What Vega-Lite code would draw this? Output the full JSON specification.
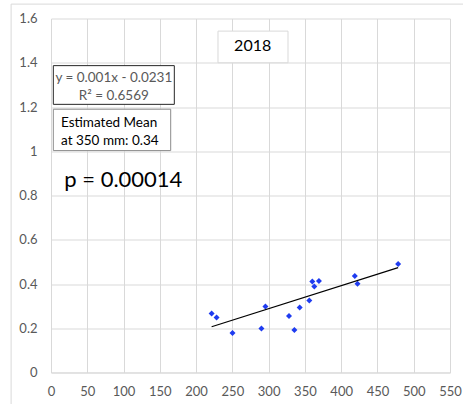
{
  "$schema": "https://vega.github.io/schema/vega-lite/v6.json",
  "autosize": {"type": "none"},
  "width": 399,
  "height": 354,
  "padding": {"left": 51, "top": 18.5, "right": 13, "bottom": 31.5},
  "background": "white",
  "config": {
    "font": "Lato",
    "view": {"stroke": null},
    "axis": {
      "labelFont": "Lato",
      "labelFontSize": 13,
      "labelColor": "#595959",
      "labelOverlap": false,
      "labelFlush": false,
      "gridColor": "#d9d9d9",
      "gridWidth": 1,
      "ticks": false,
      "title": null
    }
  },
  "datasets": {
    "points": [
      {"mm": 221.4, "value": 0.267},
      {"mm": 228.2, "value": 0.249},
      {"mm": 250.2, "value": 0.178},
      {"mm": 290.1, "value": 0.199},
      {"mm": 295.6, "value": 0.298},
      {"mm": 328.1, "value": 0.255},
      {"mm": 335.5, "value": 0.192},
      {"mm": 342.8, "value": 0.294},
      {"mm": 356.1, "value": 0.325},
      {"mm": 360.2, "value": 0.411},
      {"mm": 363.0, "value": 0.389},
      {"mm": 369.3, "value": 0.414},
      {"mm": 418.8, "value": 0.436},
      {"mm": 422.5, "value": 0.401},
      {"mm": 478.5, "value": 0.490}
    ],
    "trend": [
      {"mm": 221.4, "value": 0.207},
      {"mm": 478.5, "value": 0.474}
    ],
    "frame": [
      {"mm": -55, "mm2": 700, "value": 1.665, "value2": -0.3}
    ],
    "boxes": [
      {"box": "title", "mm": 230.2, "mm2": 326.7, "value": 1.543, "value2": 1.400, "stroke": "#d9d9d9"},
      {"box": "equation", "mm": 3.2, "mm2": 170, "value": 1.387, "value2": 1.212, "stroke": "#262626"},
      {"box": "estimate", "mm": 3.2, "mm2": 165, "value": 1.190, "value2": 1.003, "stroke": "#8c8c8c"}
    ],
    "centered": [
      {"label": "2018", "mm": 278, "value": 1.474, "size": 16, "color": "#000000"},
      {"label": "y = 0.001x - 0.0231", "mm": 86.6, "value": 1.331, "size": 13.5, "color": "#595959"},
      {"label": "R² = 0.6569", "mm": 86.6, "value": 1.250, "size": 13.5, "color": "#595959"}
    ],
    "leftText": [
      {"label": "Estimated Mean", "mm": 13.8, "value": 1.129, "size": 13.5},
      {"label": "at 350 mm: 0.34", "mm": 13.8, "value": 1.048, "size": 13.5},
      {"label": "p = 0.00014", "mm": 18.3, "value": 0.870, "size": 22}
    ]
  },
  "encoding": {
    "x": {"field": "mm", "type": "quantitative", "scale": {"domain": [0, 550], "nice": false, "zero": false}, "axis": {"values": [0, 50, 100, 150, 200, 250, 300, 350, 400, 450, 500, 550], "domain": true, "domainColor": "#d9d9d9", "labelPadding": 13, "grid": true}},
    "y": {"field": "value", "type": "quantitative", "scale": {"domain": [0, 1.6], "nice": false, "zero": false}, "axis": {"values": [0, 0.2, 0.4, 0.6, 0.8, 1, 1.2, 1.4, 1.6], "format": "~g", "domain": false, "labelPadding": 14, "grid": true}}
  },
  "layer": [
    {
      "data": {"name": "frame"},
      "mark": {"type": "rect", "fill": null, "stroke": "#d9d9d9", "strokeWidth": 1, "clip": false},
      "encoding": {
        "x2": {"field": "mm2"},
        "y2": {"field": "value2"}
      }
    },
    {
      "data": {"name": "points"},
      "mark": {"type": "point", "shape": "diamond", "filled": true, "size": 36, "color": "#1f3cf0", "opacity": 1}
    },
    {
      "data": {"name": "trend"},
      "mark": {"type": "line", "color": "#000000", "strokeWidth": 1.2},
      "encoding": {}
    },
    {
      "data": {"name": "boxes"},
      "mark": {"type": "rect", "fill": "white", "strokeWidth": 1},
      "encoding": {
        "x2": {"field": "mm2"},
        "y2": {"field": "value2"},
        "stroke": {"field": "stroke", "type": "nominal", "scale": null}
      }
    },
    {
      "data": {"name": "centered"},
      "mark": {"type": "text", "align": "center", "baseline": "middle", "font": "Lato"},
      "encoding": {
        "text": {"field": "label"},
        "size": {"field": "size", "type": "quantitative", "scale": null},
        "color": {"field": "color", "type": "nominal", "scale": null}
      }
    },
    {
      "data": {"name": "leftText"},
      "mark": {"type": "text", "align": "left", "baseline": "middle", "font": "Lato", "color": "#000000"},
      "encoding": {
        "text": {"field": "label"},
        "size": {"field": "size", "type": "quantitative", "scale": null}
      }
    }
  ]
}
